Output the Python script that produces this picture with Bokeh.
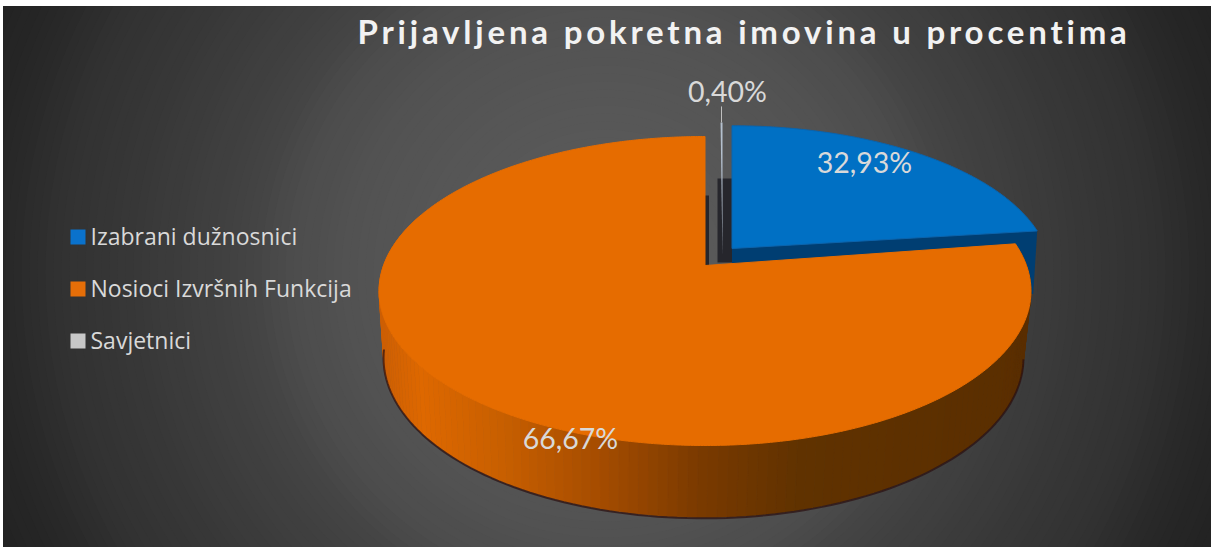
import math
from bokeh.core.properties import value
from bokeh.embed import file_html
from bokeh.layouts import column
from bokeh.models import Range1d
from bokeh.plotting import figure
from bokeh.resources import INLINE

# ---- data ----
categories = ["Izabrani dužnosnici", "Nosioci Izvršnih Funkcija", "Savjetnici"]
values = [32.93, 66.67, 0.40]
# the reference's slices do not follow their printed shares: angles as drawn (deg, clockwise from 12 o'clock)
slice_start = [0.0, 81.5, 359.6]
slice_end = [82.8, 360.0, 360.0]
title = "Prijavljena pokretna imovina u procentima"

# ---- style ----
top_colors = ["#0070C4", "#E66C00", "#B4C0CE"]
legend_colors = ["#0A72CC", "#E56E08", "#C8C8C8"]
text_color = "#D9D9D9"
FONT = "Lato"

# ---- page geometry in picture pixels ----
X0, Y0, X1, Y1 = 3, 6, 1211, 547
W, H = X1 - X0, Y1 - Y0
PERSP = 0.165
ORANGE_TOP = dict(cx=704.5, cy=265.0, a=321.5, h=150.3)
ORANGE_BOT = dict(cx=703.0, cy=330.0, a=315.6, h=156.0)
BLUE_TOP = dict(cx=731.5, cy=248.0, a=314.0, h=143.0)
GREY_TOP = dict(cx=722.0, cy=255.0, a=321.5, h=155.0)
TITLE_H = 70


def project(theta, g, r=1.0):
    t = math.radians(theta)
    px, py = r * math.sin(t), r * math.cos(t)
    d = 1 + PERSP * py
    return g["cx"] + g["a"] * px / d, g["cy"] - g["h"] * py / d


def wedge(start, end, g):
    n = max(2, int(end - start) * 2)
    pts = [project(start + (end - start) * i / n, g) for i in range(n + 1)]
    return [g["cx"]] + [q[0] for q in pts], [g["cy"]] + [q[1] for q in pts]


def mix(stops, x):
    for (x0, c0), (x1, c1) in zip(stops, stops[1:]):
        if x <= x1:
            f = max(0.0, (x - x0) / (x1 - x0))
            return "#%02x%02x%02x" % tuple(round(a + (b - a) * f) for a, b in zip(c0, c1))
    return "#%02x%02x%02x" % stops[-1][1]


p = figure(width=W, height=H, x_range=Range1d(X0, X1), y_range=Range1d(Y1, Y0),
           output_backend="svg", toolbar_location=None, min_border=0,
           x_axis_location=None, y_axis_location=None,
           background_fill_color="#232323", border_fill_color="#232323",
           outline_line_color=None,
           styles={"margin-top": f"{-TITLE_H}px"})
p.grid.visible = False

# radial backdrop
grad = [(0, 94), (250, 83), (320, 76), (364, 67), (485, 55), (545, 50), (620, 38), (662, 35), (760, 33)]
stops = [(r, (c, c, c)) for r, c in grad]
rs = list(range(760, 0, -8))
p.ellipse(x=[605] * len(rs), y=[273] * len(rs), width=[2 * r for r in rs], height=[2 * r for r in rs],
          fill_color=[mix(stops, r) for r in rs], line_color=None)

# blue slice's front wall
bx, by = project(slice_end[0], BLUE_TOP)
p.patch([BLUE_TOP["cx"], bx, bx - 4, BLUE_TOP["cx"]],
        [BLUE_TOP["cy"], by, by + 63, BLUE_TOP["cy"] + 32], fill_color="#003E72", line_color=None)

# dark inner walls between the slices
p.quad(left=[ORANGE_TOP["cx"], GREY_TOP["cx"] - 5, ], right=[ORANGE_TOP["cx"] + 4, BLUE_TOP["cx"]],
       top=[ORANGE_TOP["cy"] - 70, GREY_TOP["cy"] - 77], bottom=[ORANGE_TOP["cy"], GREY_TOP["cy"] + 7],
       fill_color="#26262C", line_color=None)

# blue and grey top faces
xs, ys = wedge(slice_start[0], slice_end[0], BLUE_TOP)
p.patch(xs, ys, fill_color=top_colors[0], line_color="#0A64AE", line_width=1)
xs, ys = wedge(slice_start[2], slice_end[2], GREY_TOP)
p.patch(xs, ys, fill_color=top_colors[2], line_color=None)

# orange wall in shaded strips
shade = [(380, (205, 95, 4)), (420, (222, 104, 0)), (500, (200, 95, 0)), (600, (165, 76, 0)),
         (700, (122, 58, 0)), (800, (96, 50, 0)), (1035, (90, 46, 0))]
sx, sy, sc = [], [], []
th = 85.0
while th < 290:
    a0, a1 = project(th, ORANGE_TOP), project(th + 1.5, ORANGE_TOP)
    b0, b1 = project(th, ORANGE_BOT), project(th + 1.5, ORANGE_BOT)
    sx.append([a0[0], a1[0], b1[0], b0[0]])
    sy.append([a0[1], a1[1], b1[1], b0[1]])
    sc.append(mix(shade, (a0[0] + a1[0]) / 2))
    th += 1.5
p.patches(sx, sy, fill_color=sc, line_color=sc, line_width=0.7)

# soft contact shadow under the wall
arc = [project(100 + i * 1.5, ORANGE_BOT) for i in range(110)]
p.line([q[0] for q in arc], [q[1] + 1 for q in arc], line_color="#2A0E10", line_width=2, line_alpha=0.7)

# orange top face
xs, ys = wedge(slice_start[1], slice_end[1], ORANGE_TOP)
p.patch(xs, ys, fill_color=top_colors[1], line_color=top_colors[1], line_width=1)

# leader line of the smallest slice
gx, gy = project(0, GREY_TOP)
p.line([gx - 1, gx - 1], [gy - 16, gy], line_color="#BFBFBF", line_width=1)

# data labels
fmt = [f"{v:.2f}%".replace(".", ",") for v in values]
p.text(x=[864, 570, 727], y=[161, 437, 90], text=fmt, text_color=text_color,
       text_font=value(FONT), text_font_size="28.5px", text_align="center", text_baseline="middle")

# legend
row_y = [236.5, 288.5, 340.5]
p.quad(left=[70] * 3, right=[85] * 3, top=[y - 7.5 for y in row_y], bottom=[y + 7.5 for y in row_y],
       fill_color=legend_colors, line_color=None)
p.text(x=[90] * 3, y=[y - 1 for y in row_y], text=categories, text_color=text_color,
       text_font=value("Open Sans"), text_font_size="23px", text_align="left", text_baseline="middle")

# title gets its own transparent overlay so that only it carries the letter spacing
t = figure(width=W, height=TITLE_H, x_range=Range1d(X0, X1), y_range=Range1d(Y0 + TITLE_H, Y0),
           output_backend="svg", toolbar_location=None, min_border=0,
           x_axis_location=None, y_axis_location=None,
           background_fill_alpha=0, border_fill_alpha=0, outline_line_color=None,
           styles={"letter-spacing": "3.8px", "position": "relative", "z-index": "5"})
t.grid.visible = False
t.text(x=[357], y=[30], text=[title], text_color="#F2F2F2", text_font=value(FONT),
       text_font_size="33px", text_font_style="bold", text_align="left", text_baseline="middle")

page = column(t, p, styles={"margin-left": f"{X0}px", "margin-top": f"{Y0}px"})
open("out.html", "w").write(file_html(page, INLINE))
